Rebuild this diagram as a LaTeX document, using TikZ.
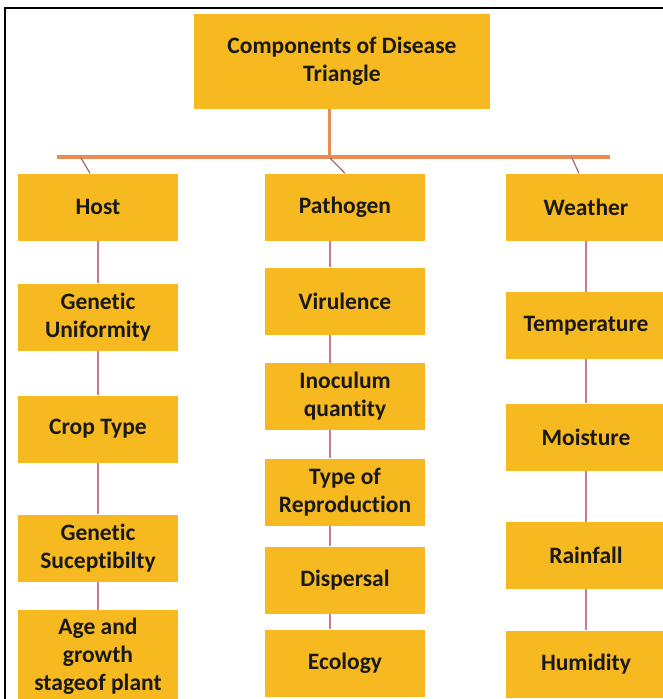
\documentclass[tikz,border=0pt]{standalone}
\usepackage{fontspec}
\setmainfont[RawFeature={-liga;-clig;-calt;-dlig}]{Carlito}
\definecolor{boxfill}{HTML}{F6B920}
\definecolor{barcol}{HTML}{E98B55}
\definecolor{linkcol}{HTML}{C97C8A}
\definecolor{slantcol}{HTML}{94606A}
\begin{document}
\begin{tikzpicture}[x=1pt,y=-1pt,
  box/.style={fill=boxfill, draw=none, minimum width=160pt, minimum height=67pt, align=center,
    font=\fontsize{23.5}{28}\selectfont\bfseries, inner sep=0pt, text=black!90},
  link/.style={draw=linkcol, line width=1.3pt},
  slant/.style={draw=slantcol, line width=1.1pt},
  bar/.style={draw=barcol, line width=4pt},
  frame/.style={draw=black, line width=2.5pt}]
\useasboundingbox (0,0) rectangle (663,699);
\clip (0,0) rectangle (663,699);
\fill[white] (0,0) rectangle (663,699);
% frame
\coordinate (f1) at (5,699);
\coordinate (f2) at (5,8);
\coordinate (f3) at (663,8);
\draw[frame] (f1) -- (f2) -- (f3);
% title
\node[box, minimum width=296pt, minimum height=95pt] (title) at (342,61) {Components of Disease\\Triangle};
% columns
\node[box] (host) at (98,207) {Host};
\node[box] (genu) at (98,317) {Genetic\\Uniformity};
\node[box] (crop) at (98,429) {Crop Type};
\node[box] (gens) at (98,548) {Genetic\\Suceptibilty};
\node[box, minimum height=92pt] (age) at (98,656) {Age and\\growth\\stageof plant};
\node[box] (path) at (345,207) {Pathogen};
\node[box] (vir) at (345,301) {Virulence};
\node[box] (inoc) at (345,396.5) {Inoculum\\quantity};
\node[box] (type) at (345,492) {Type of\\Reproduction};
\node[box] (disp) at (345,580) {Dispersal};
\node[box] (eco) at (345,663) {Ecology};
\node[box] (wea) at (586,207) {Weather};
\node[box] (temp) at (586,325.5) {Temperature};
\node[box] (moist) at (586,437) {Moisture};
\node[box] (rain) at (586,555.5) {Rainfall};
\node[box] (hum) at (586,664) {Humidity};
% bar
\coordinate (barL) at (57,157);
\coordinate (barR) at (610,157);
\coordinate (barM) at (329,157);
\coordinate (hb) at (81,158);
\coordinate (pb) at (330,158);
\coordinate (wb) at (572,158);
\coordinate (pcol) at (330,0);
\draw[draw=barcol, line width=3pt] (title.south -| barM) -- (barM);
\draw[bar] (barL) -- (barR);
\draw[slant] (hb) -- ([xshift=-8pt]host.north);
\draw[slant] (pb) -- (path.north);
\draw[slant] (wb) -- ([xshift=-7pt]wea.north);
% column links
\draw[link] (host) -- (genu);
\draw[link] (genu) -- (crop);
\draw[link] (crop) -- (gens);
\draw[link] (gens) -- (age);
\draw[link] (path.south -| pcol) -- (vir.north -| pcol);
\draw[link] (vir.south -| pcol) -- (inoc.north -| pcol);
\draw[link] (inoc.south -| pcol) -- (type.north -| pcol);
\draw[link] (type.south -| pcol) -- (disp.north -| pcol);
\draw[link] (disp.south -| pcol) -- (eco.north -| pcol);
\draw[link] (wea) -- (temp);
\draw[link] (temp) -- (moist);
\draw[link] (moist) -- (rain);
\draw[link] (rain) -- (hum);
\end{tikzpicture}
\end{document}
